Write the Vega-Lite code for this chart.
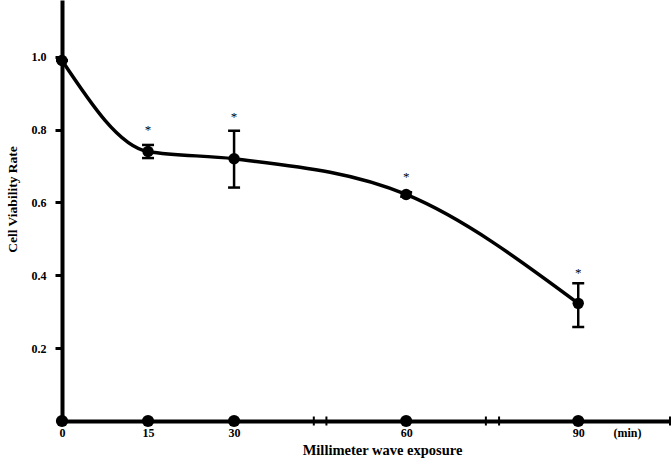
{
  "$schema": "https://vega.github.io/schema/vega-lite/v6.json",
  "width": 608,
  "height": 421,
  "autosize": {"type": "none"},
  "padding": {"left": 62, "top": 0, "right": 2, "bottom": 39},
  "background": "white",
  "config": {
    "view": {"stroke": null},
    "font": "Liberation Serif",
    "axis": {"grid": false, "domainColor": "black", "tickColor": "black", "labelColor": "black", "titleColor": "black", "labelFont": "Liberation Serif", "titleFont": "Liberation Serif", "labelFontWeight": "bold", "titleFontWeight": "bold"}
  },
  "datasets": {
    "viab": [
      {"t": 0, "v": 0.99, "lo": 0.99, "hi": 0.99},
      {"t": 15, "v": 0.74, "lo": 0.722, "hi": 0.758},
      {"t": 30, "v": 0.72, "lo": 0.641, "hi": 0.797},
      {"t": 60, "v": 0.622, "lo": 0.616, "hi": 0.628},
      {"t": 90, "v": 0.323, "lo": 0.258, "hi": 0.378}
    ],
    "stars": [
      {"t": 15, "y": 0.8, "s": "*"},
      {"t": 30, "y": 0.836, "s": "*"},
      {"t": 60, "y": 0.669, "s": "*"},
      {"t": 90, "y": 0.406, "s": "*"}
    ],
    "breaks": [
      {"t": 43.9}, {"t": 46.1}, {"t": 73.9}, {"t": 76.2}, {"t": 106}
    ]
  },
  "layer": [
    {
      "data": {"name": "viab"},
      "mark": {"type": "line", "interpolate": "monotone", "color": "black", "strokeWidth": 3.5},
      "encoding": {
        "x": {"field": "t", "type": "quantitative", "scale": {"domain": [0, 106], "nice": false, "zero": false},
          "axis": {"values": [0, 15, 30, 60, 90, 98.5], "labelExpr": "datum.value == 98.5 ? '(min)' : datum.label", "domainWidth": 4, "ticks": false, "labelFontSize": 12, "labelPadding": 6, "labelFlush": false,
            "title": "Millimeter wave exposure", "titleFontSize": 14.5, "titleX": 320, "titleY": 29, "titleBaseline": "middle", "titleAlign": "center"}},
        "y": {"field": "v", "type": "quantitative", "scale": {"domain": [0, 1.156], "nice": false, "zero": false},
          "axis": {"values": [0.2, 0.4, 0.6, 0.8, 1.0], "format": ".1f", "domainWidth": 4, "tickWidth": 3, "tickSize": 7, "labelFontSize": 12, "labelPadding": 9,
            "title": "Cell Viability Rate", "titleFontSize": 13.5, "titleX": -50, "titleY": 199, "titleAngle": 270, "titleBaseline": "middle", "titleAlign": "center"}}
      }
    },
    {
      "data": {"name": "viab"},
      "mark": {"type": "rule", "color": "black", "strokeWidth": 2.5, "opacity": 1},
      "encoding": {
        "x": {"field": "t", "type": "quantitative"},
        "y": {"field": "lo", "type": "quantitative"},
        "y2": {"field": "hi"}
      }
    },
    {
      "data": {"name": "viab"},
      "mark": {"type": "tick", "orient": "horizontal", "color": "black", "opacity": 1, "size": 12, "thickness": 2.5},
      "encoding": {
        "x": {"field": "t", "type": "quantitative"},
        "y": {"field": "lo", "type": "quantitative"}
      }
    },
    {
      "data": {"name": "viab"},
      "mark": {"type": "tick", "orient": "horizontal", "color": "black", "opacity": 1, "size": 12, "thickness": 2.5},
      "encoding": {
        "x": {"field": "t", "type": "quantitative"},
        "y": {"field": "hi", "type": "quantitative"}
      }
    },
    {
      "data": {"name": "viab"},
      "mark": {"type": "point", "filled": true, "color": "black", "opacity": 1, "size": 130},
      "encoding": {
        "x": {"field": "t", "type": "quantitative"},
        "y": {"field": "v", "type": "quantitative"}
      }
    },
    {
      "mark": {"type": "rule", "color": "black", "strokeWidth": 4},
      "encoding": {
        "x": {"datum": -3},
        "x2": {"datum": 106},
        "y": {"datum": 0}
      }
    },
    {
      "data": {"name": "breaks"},
      "mark": {"type": "tick", "orient": "vertical", "color": "black", "opacity": 1, "size": 9, "thickness": 2},
      "encoding": {
        "x": {"field": "t", "type": "quantitative"},
        "y": {"datum": 0}
      }
    },
    {
      "data": {"name": "viab"},
      "mark": {"type": "point", "filled": true, "color": "black", "opacity": 1, "size": 150},
      "encoding": {
        "x": {"field": "t", "type": "quantitative"},
        "y": {"datum": 0}
      }
    },
    {
      "data": {"name": "stars"},
      "mark": {"type": "text", "fill": "black", "opacity": 1, "fontSize": 13, "font": "Liberation Serif", "baseline": "middle"},
      "encoding": {
        "x": {"field": "t", "type": "quantitative"},
        "y": {"field": "y", "type": "quantitative"},
        "text": {"field": "s"}
      }
    }
  ]
}
